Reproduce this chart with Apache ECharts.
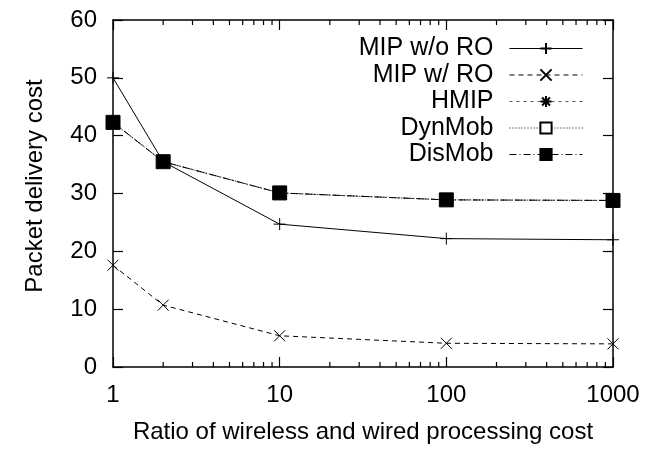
<!DOCTYPE html>
<html>
<head>
<meta charset="utf-8">
<script src="https://cdn.jsdelivr.net/npm/echarts@6/dist/echarts.min.js"></script>
<style>
  html, body { margin: 0; padding: 0; background: #fff; }
  #chart { width: 648px; height: 450px; }
</style>
</head>
<body>
<div id="chart"></div>
<script>
// Ratio of wireless to wired processing cost (log scale)
const ratios = [1, 2, 10, 100, 1000];

// Packet delivery cost per scheme
const mipWithoutRO = [50, 35.5, 24.7, 22.2, 22.0];
const mipWithRO    = [17.6, 10.7, 5.4, 4.1, 4.0];
const hmip         = [42.3, 35.5, 30.1, 28.9, 28.8];
const dynMob       = [42.3, 35.5, 30.1, 28.9, 28.8];
const disMob       = [42.3, 35.5, 30.1, 28.9, 28.8];

const seriesNames = ['MIP w/o RO', 'MIP w/ RO', 'HMIP', 'DynMob', 'DisMob'];

// Minor ticks of the logarithmic x axis
const minorTicks = [2, 3, 4, 5, 6, 7, 8, 9, 20, 30, 40, 50, 60, 70, 80, 90, 200, 300, 400, 500, 600, 700, 800, 900];

const FONT = '"Liberation Sans", Arial, sans-serif';
const FS = 24;
const toPairs = vals => ratios.map((r, i) => [r, vals[i]]);

const plusSym = 'path://M0,5L10,5M5,0L5,10';
const crossSym = 'path://M0,0L10,10M10,0L0,10';
const starSym = 'path://M0,5L10,5M5,0L5,10M1.5,1.5L8.5,8.5M8.5,1.5L1.5,8.5';

function lineSeries(name, vals, lineType, symbol, size, fill, lineColor) {
  return {
    name: name,
    type: 'line',
    data: toPairs(vals),
    symbol: symbol,
    symbolSize: size,
    showAllSymbol: true,
    lineStyle: { color: lineColor || '#000', width: 1, type: lineType },
    itemStyle: { color: fill, borderColor: '#000', borderWidth: 1 },
    emphasis: { disabled: true },
    z: 3
  };
}

const tick = () => ({ show: true, inside: true, length: 10, lineStyle: { color: '#000', width: 1.2 } });
const axisLine = () => ({ show: true, onZero: false, lineStyle: { color: '#000', width: 1.5 } });

const chart = echarts.init(document.getElementById('chart'), null, { renderer: 'canvas' });

chart.setOption({
  backgroundColor: '#fff',
  animation: false,
  grid: { left: 113, right: 35, top: 20, bottom: 83 },
  legend: {
    data: seriesNames,
    orient: 'vertical',
    align: 'right',
    right: 60,
    top: 31,
    itemWidth: 73,
    itemHeight: 14,
    itemGap: 1.5,
    selectedMode: false,
    lineStyle: { width: 1 },
    textStyle: { fontFamily: FONT, fontSize: 25, lineHeight: 24, color: '#000', padding: [0, 11, 0, 0] }
  },
  xAxis: [{
    type: 'log',
    logBase: 10,
    min: 1,
    max: 1000,
    position: 'bottom',
    name: 'Ratio of wireless and wired processing cost',
    nameLocation: 'middle',
    nameGap: 53,
    nameTextStyle: { fontFamily: FONT, fontSize: FS, color: '#000' },
    axisLine: axisLine(),
    axisTick: tick(),
    axisLabel: { fontFamily: FONT, fontSize: FS, color: '#000', margin: 16, formatter: v => String(v) },
    splitLine: { show: false }
  }, {
    type: 'log',
    logBase: 10,
    min: 1,
    max: 1000,
    position: 'top',
    axisLine: axisLine(),
    axisTick: tick(),
    axisLabel: { show: false },
    splitLine: { show: false }
  }],
  yAxis: [{
    type: 'value',
    min: 0,
    max: 60,
    interval: 10,
    position: 'left',
    name: 'Packet delivery cost',
    nameLocation: 'middle',
    nameGap: 66,
    nameTextStyle: { fontFamily: FONT, fontSize: FS, color: '#000', padding: [0, 0, 0, 15] },
    axisLine: axisLine(),
    axisTick: tick(),
    axisLabel: { fontFamily: FONT, fontSize: FS, color: '#000', margin: 16 },
    splitLine: { show: false }
  }, {
    type: 'value',
    min: 0,
    max: 60,
    interval: 10,
    position: 'right',
    axisLine: axisLine(),
    axisTick: tick(),
    axisLabel: { show: false },
    splitLine: { show: false }
  }],
  series: [
    lineSeries('MIP w/o RO', mipWithoutRO, 'solid', plusSym, 12, 'none'),
    lineSeries('MIP w/ RO', mipWithRO, [5, 4], crossSym, 11, 'none'),
    lineSeries('HMIP', hmip, [3, 4], starSym, 11, 'none', '#555'),
    lineSeries('DynMob', dynMob, [1, 2], 'rect', 11, '#fff'),
    lineSeries('DisMob', disMob, [7, 3, 1, 3], 'rect', 14, '#000'),
    {
      // minor ticks drawn inward from the bottom and top edges
      type: 'custom',
      xAxisIndex: 0,
      yAxisIndex: 0,
      data: minorTicks.map(v => [v, 0]),
      encode: { x: 0, y: 1 },
      z: 5,
      renderItem: function (params, api) {
        const v = api.value(0);
        const bottom = api.coord([v, 0]);
        const top = api.coord([v, 60]);
        const style = { stroke: '#000', lineWidth: 1.2 };
        return {
          type: 'group',
          children: [
            { type: 'line', shape: { x1: bottom[0], y1: bottom[1], x2: bottom[0], y2: bottom[1] - 5 }, style: style },
            { type: 'line', shape: { x1: top[0], y1: top[1], x2: top[0], y2: top[1] + 5 }, style: style }
          ]
        };
      }
    }
  ]
});
</script>
</body>
</html>
